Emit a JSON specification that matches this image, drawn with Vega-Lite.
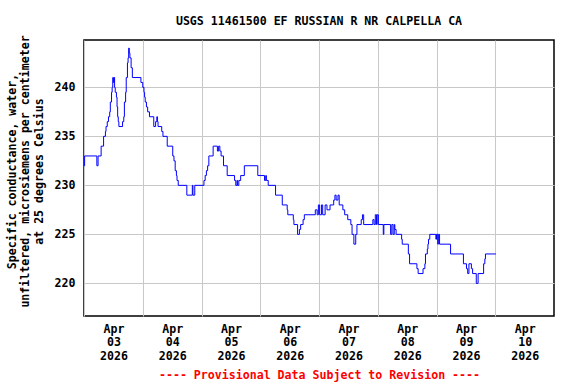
{
  "$schema": "https://vega.github.io/schema/vega-lite/v6.json",
  "width": 470,
  "height": 276,
  "autosize": {"type": "none"},
  "padding": {"left": 84, "top": 40, "right": 22, "bottom": 68},
  "background": "white",
  "config": {
    "view": {"stroke": "black", "strokeWidth": 1.5},
    "font": "DejaVu Sans Mono"
  },
  "title": {
    "text": "USGS 11461500 EF RUSSIAN R NR CALPELLA CA",
    "font": "DejaVu Sans Mono",
    "fontSize": 11.6,
    "fontWeight": "bold",
    "color": "black",
    "anchor": "middle",
    "frame": "group",
    "baseline": "middle",
    "offset": 1
  },
  "data": {
    "values": [
      {"t": "2026-04-03T00:00", "v": 232},
      {"t": "2026-04-03T00:15", "v": 233},
      {"t": "2026-04-03T05:15", "v": 232},
      {"t": "2026-04-03T05:45", "v": 233},
      {"t": "2026-04-03T07:00", "v": 234},
      {"t": "2026-04-03T08:00", "v": 235},
      {"t": "2026-04-03T08:45", "v": 235.5},
      {"t": "2026-04-03T09:00", "v": 236},
      {"t": "2026-04-03T09:30", "v": 236.5},
      {"t": "2026-04-03T10:00", "v": 237},
      {"t": "2026-04-03T10:30", "v": 237.5},
      {"t": "2026-04-03T10:45", "v": 238.5},
      {"t": "2026-04-03T11:15", "v": 239.5},
      {"t": "2026-04-03T11:30", "v": 240},
      {"t": "2026-04-03T11:45", "v": 241},
      {"t": "2026-04-03T12:00", "v": 240.5},
      {"t": "2026-04-03T12:15", "v": 241},
      {"t": "2026-04-03T12:30", "v": 240},
      {"t": "2026-04-03T12:45", "v": 239.5},
      {"t": "2026-04-03T13:15", "v": 239},
      {"t": "2026-04-03T13:30", "v": 238},
      {"t": "2026-04-03T13:45", "v": 237},
      {"t": "2026-04-03T14:00", "v": 236.5},
      {"t": "2026-04-03T14:15", "v": 236},
      {"t": "2026-04-03T15:45", "v": 236.5},
      {"t": "2026-04-03T16:15", "v": 237},
      {"t": "2026-04-03T16:30", "v": 238.5},
      {"t": "2026-04-03T17:00", "v": 239.5},
      {"t": "2026-04-03T17:15", "v": 241},
      {"t": "2026-04-03T17:45", "v": 242.5},
      {"t": "2026-04-03T18:00", "v": 243},
      {"t": "2026-04-03T18:15", "v": 244},
      {"t": "2026-04-03T18:30", "v": 243.5},
      {"t": "2026-04-03T18:45", "v": 243},
      {"t": "2026-04-03T19:15", "v": 242},
      {"t": "2026-04-03T19:45", "v": 241},
      {"t": "2026-04-03T23:15", "v": 240.5},
      {"t": "2026-04-04T00:00", "v": 240},
      {"t": "2026-04-04T00:30", "v": 239.5},
      {"t": "2026-04-04T00:45", "v": 239},
      {"t": "2026-04-04T01:00", "v": 238.5},
      {"t": "2026-04-04T01:30", "v": 238},
      {"t": "2026-04-04T02:00", "v": 237.5},
      {"t": "2026-04-04T02:45", "v": 237},
      {"t": "2026-04-04T04:30", "v": 236},
      {"t": "2026-04-04T05:15", "v": 236.5},
      {"t": "2026-04-04T05:45", "v": 237},
      {"t": "2026-04-04T06:00", "v": 236.5},
      {"t": "2026-04-04T06:15", "v": 236},
      {"t": "2026-04-04T07:45", "v": 235.5},
      {"t": "2026-04-04T08:15", "v": 235},
      {"t": "2026-04-04T10:00", "v": 234},
      {"t": "2026-04-04T12:15", "v": 233},
      {"t": "2026-04-04T12:45", "v": 232.5},
      {"t": "2026-04-04T13:15", "v": 231.5},
      {"t": "2026-04-04T13:45", "v": 231},
      {"t": "2026-04-04T14:00", "v": 230.5},
      {"t": "2026-04-04T14:30", "v": 230},
      {"t": "2026-04-04T18:00", "v": 229},
      {"t": "2026-04-04T20:15", "v": 230},
      {"t": "2026-04-04T20:30", "v": 229},
      {"t": "2026-04-04T21:15", "v": 230},
      {"t": "2026-04-05T01:00", "v": 230.5},
      {"t": "2026-04-05T01:30", "v": 231},
      {"t": "2026-04-05T02:00", "v": 231.5},
      {"t": "2026-04-05T02:30", "v": 232},
      {"t": "2026-04-05T03:00", "v": 233},
      {"t": "2026-04-05T04:45", "v": 234},
      {"t": "2026-04-05T06:30", "v": 233.5},
      {"t": "2026-04-05T07:00", "v": 234},
      {"t": "2026-04-05T07:30", "v": 233.5},
      {"t": "2026-04-05T08:00", "v": 233},
      {"t": "2026-04-05T09:00", "v": 232},
      {"t": "2026-04-05T10:30", "v": 231},
      {"t": "2026-04-05T13:30", "v": 230.5},
      {"t": "2026-04-05T14:00", "v": 230},
      {"t": "2026-04-05T14:30", "v": 230.5},
      {"t": "2026-04-05T14:45", "v": 230},
      {"t": "2026-04-05T15:15", "v": 230.5},
      {"t": "2026-04-05T16:00", "v": 231},
      {"t": "2026-04-05T17:30", "v": 232},
      {"t": "2026-04-05T23:00", "v": 231},
      {"t": "2026-04-06T01:45", "v": 230.5},
      {"t": "2026-04-06T02:15", "v": 231},
      {"t": "2026-04-06T02:30", "v": 230.5},
      {"t": "2026-04-06T03:15", "v": 230},
      {"t": "2026-04-06T06:15", "v": 229},
      {"t": "2026-04-06T09:00", "v": 228},
      {"t": "2026-04-06T11:00", "v": 227.5},
      {"t": "2026-04-06T11:15", "v": 227},
      {"t": "2026-04-06T13:30", "v": 226.5},
      {"t": "2026-04-06T13:45", "v": 226},
      {"t": "2026-04-06T15:15", "v": 225},
      {"t": "2026-04-06T16:00", "v": 225.5},
      {"t": "2026-04-06T16:30", "v": 226},
      {"t": "2026-04-06T17:30", "v": 226.5},
      {"t": "2026-04-06T18:00", "v": 227},
      {"t": "2026-04-06T22:30", "v": 227.5},
      {"t": "2026-04-06T23:15", "v": 227},
      {"t": "2026-04-06T23:45", "v": 228},
      {"t": "2026-04-07T00:15", "v": 227},
      {"t": "2026-04-07T01:00", "v": 228},
      {"t": "2026-04-07T01:30", "v": 227},
      {"t": "2026-04-07T02:30", "v": 228},
      {"t": "2026-04-07T03:15", "v": 227.5},
      {"t": "2026-04-07T04:30", "v": 228},
      {"t": "2026-04-07T06:00", "v": 228.5},
      {"t": "2026-04-07T06:30", "v": 229},
      {"t": "2026-04-07T07:00", "v": 228.5},
      {"t": "2026-04-07T07:45", "v": 229},
      {"t": "2026-04-07T08:15", "v": 228},
      {"t": "2026-04-07T09:45", "v": 227.5},
      {"t": "2026-04-07T10:30", "v": 227},
      {"t": "2026-04-07T11:45", "v": 226.5},
      {"t": "2026-04-07T13:00", "v": 226},
      {"t": "2026-04-07T13:30", "v": 225},
      {"t": "2026-04-07T14:15", "v": 224},
      {"t": "2026-04-07T15:00", "v": 225},
      {"t": "2026-04-07T15:30", "v": 226},
      {"t": "2026-04-07T17:15", "v": 226.5},
      {"t": "2026-04-07T17:45", "v": 227},
      {"t": "2026-04-07T18:15", "v": 226},
      {"t": "2026-04-07T22:00", "v": 226.5},
      {"t": "2026-04-07T22:30", "v": 226},
      {"t": "2026-04-07T23:00", "v": 227},
      {"t": "2026-04-07T23:30", "v": 226},
      {"t": "2026-04-07T23:45", "v": 227},
      {"t": "2026-04-08T00:15", "v": 226},
      {"t": "2026-04-08T02:15", "v": 225},
      {"t": "2026-04-08T02:30", "v": 226},
      {"t": "2026-04-08T05:15", "v": 225},
      {"t": "2026-04-08T05:45", "v": 226},
      {"t": "2026-04-08T06:15", "v": 225},
      {"t": "2026-04-08T06:45", "v": 226},
      {"t": "2026-04-08T07:00", "v": 225.5},
      {"t": "2026-04-08T07:30", "v": 225},
      {"t": "2026-04-08T09:45", "v": 224.5},
      {"t": "2026-04-08T10:00", "v": 224},
      {"t": "2026-04-08T12:30", "v": 223},
      {"t": "2026-04-08T13:00", "v": 222},
      {"t": "2026-04-08T16:00", "v": 221.5},
      {"t": "2026-04-08T16:30", "v": 221},
      {"t": "2026-04-08T18:30", "v": 221.5},
      {"t": "2026-04-08T19:15", "v": 222},
      {"t": "2026-04-08T19:30", "v": 223},
      {"t": "2026-04-08T20:15", "v": 223.5},
      {"t": "2026-04-08T20:30", "v": 224},
      {"t": "2026-04-08T20:45", "v": 224.5},
      {"t": "2026-04-08T21:15", "v": 225},
      {"t": "2026-04-08T23:45", "v": 224.5},
      {"t": "2026-04-09T00:00", "v": 225},
      {"t": "2026-04-09T00:30", "v": 224},
      {"t": "2026-04-09T00:45", "v": 225},
      {"t": "2026-04-09T01:15", "v": 224},
      {"t": "2026-04-09T05:45", "v": 223},
      {"t": "2026-04-09T11:00", "v": 222},
      {"t": "2026-04-09T12:15", "v": 221.5},
      {"t": "2026-04-09T12:45", "v": 221},
      {"t": "2026-04-09T13:15", "v": 222},
      {"t": "2026-04-09T14:15", "v": 221.5},
      {"t": "2026-04-09T14:45", "v": 221},
      {"t": "2026-04-09T16:15", "v": 220},
      {"t": "2026-04-09T17:00", "v": 221},
      {"t": "2026-04-09T19:15", "v": 222},
      {"t": "2026-04-09T19:45", "v": 222.5},
      {"t": "2026-04-09T20:00", "v": 223},
      {"t": "2026-04-10T00:15", "v": 223}
    ]
  },
  "mark": {"type": "line", "interpolate": "step-after", "color": "#0000ff", "strokeWidth": 1, "clip": true},
  "encoding": {
    "x": {
      "field": "t",
      "type": "temporal",
      "scale": {"domain": [{"year": 2026, "month": 4, "date": 3}, {"year": 2026, "month": 4, "date": 11}]},
      "axis": {
        "values": [
          {"year": 2026, "month": 4, "date": 3},
          {"year": 2026, "month": 4, "date": 4},
          {"year": 2026, "month": 4, "date": 5},
          {"year": 2026, "month": 4, "date": 6},
          {"year": 2026, "month": 4, "date": 7},
          {"year": 2026, "month": 4, "date": 8},
          {"year": 2026, "month": 4, "date": 9},
          {"year": 2026, "month": 4, "date": 10}
        ],
        "labelExpr": "[timeFormat(datum.value, '%b'), timeFormat(datum.value, '%d'), timeFormat(datum.value, '%Y')]",
        "labelOffset": 29.4,
        "labelAlign": "center",
        "labelBaseline": "top",
        "labelPadding": 7,
        "labelLineHeight": 13.5,
        "labelFont": "DejaVu Sans Mono",
        "labelFontSize": 11.6,
        "labelFontWeight": "bold",
        "labelColor": "black",
        "labelOverlap": false,
        "labelFlush": false,
        "ticks": false,
        "domain": false,
        "grid": true,
        "gridColor": "#c8c8c8",
        "gridWidth": 1,
        "title": "---- Provisional Data Subject to Revision ----",
        "titleColor": "red",
        "titleFont": "DejaVu Sans Mono",
        "titleFontSize": 11.6,
        "titleFontWeight": "bold",
        "titleAnchor": "middle",
        "titleBaseline": "middle",
        "titleY": 59
      }
    },
    "y": {
      "field": "v",
      "type": "quantitative",
      "scale": {"domain": [216.67, 244.83], "nice": false, "zero": false},
      "axis": {
        "values": [220, 225, 230, 235, 240],
        "ticks": false,
        "domain": false,
        "grid": true,
        "gridColor": "#c8c8c8",
        "gridWidth": 1,
        "labelPadding": 9,
        "labelFont": "DejaVu Sans Mono",
        "labelFontSize": 11.6,
        "labelFontWeight": "bold",
        "labelColor": "black",
        "title": ["Specific conductance, water,", "unfiltered, microsiemens per centimeter", "at 25 degrees Celsius"],
        "titleFont": "DejaVu Sans Mono",
        "titleFontSize": 11.6,
        "titleFontWeight": "bold",
        "titleColor": "black",
        "titleAngle": -90,
        "titleAlign": "center",
        "titleBaseline": "top",
        "titleLineHeight": 13.5,
        "titleX": -78,
        "titleY": 131
      }
    }
  }
}
